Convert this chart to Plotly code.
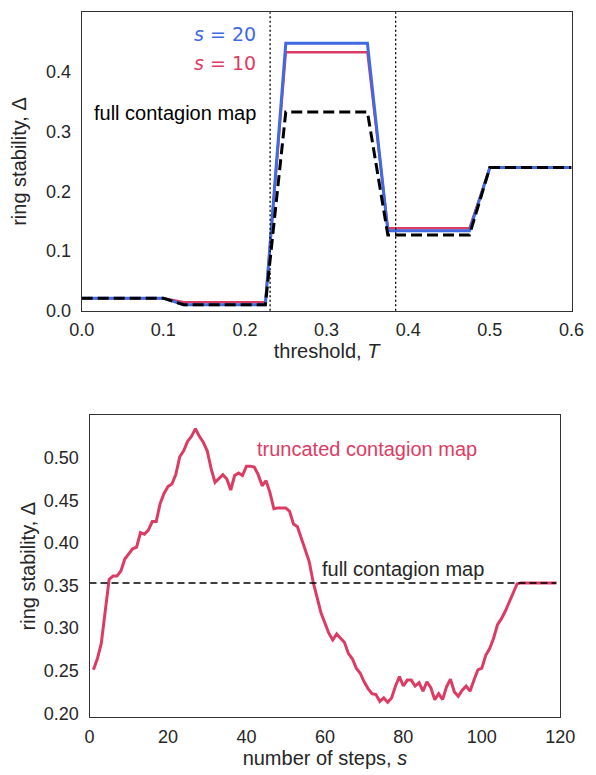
import plotly.graph_objects as go

# ---------------- data: top panel ----------------
thresholds = [0.0, 0.025, 0.05, 0.075, 0.1, 0.125, 0.15, 0.175, 0.2, 0.225,
              0.25, 0.275, 0.3, 0.325, 0.35, 0.375, 0.4, 0.425, 0.45, 0.475,
              0.5, 0.525, 0.55, 0.575, 0.6]
delta_s10 = [0.021, 0.021, 0.021, 0.021, 0.021, 0.014, 0.014, 0.014, 0.014, 0.014,
             0.433, 0.433, 0.433, 0.433, 0.433, 0.138, 0.138, 0.138, 0.138, 0.138,
             0.240, 0.240, 0.240, 0.240, 0.240]
delta_s20 = [0.021, 0.021, 0.021, 0.021, 0.021, 0.010, 0.010, 0.010, 0.010, 0.010,
             0.448, 0.448, 0.448, 0.448, 0.448, 0.134, 0.134, 0.134, 0.134, 0.134,
             0.240, 0.240, 0.240, 0.240, 0.240]
delta_full = [0.021, 0.021, 0.021, 0.021, 0.021, 0.010, 0.010, 0.010, 0.010, 0.010,
              0.333, 0.333, 0.333, 0.333, 0.333, 0.127, 0.127, 0.127, 0.127, 0.127,
              0.240, 0.240, 0.240, 0.240, 0.240]
critical_T = [0.2308, 0.3846]
top_xticks = [0.0, 0.1, 0.2, 0.3, 0.4, 0.5, 0.6]
top_yticks = [0.0, 0.1, 0.2, 0.3, 0.4, 0.5]

# ---------------- data: bottom panel ----------------
steps = list(range(1, 120))
delta_truncated = [
    0.251, 0.264, 0.282, 0.319, 0.357, 0.361, 0.361, 0.367, 0.381, 0.387,
    0.393, 0.395, 0.412, 0.410, 0.415, 0.425, 0.425, 0.446, 0.458, 0.466,
    0.469, 0.480, 0.501, 0.508, 0.519, 0.525, 0.534, 0.525, 0.518, 0.508,
    0.487, 0.471, 0.476, 0.480, 0.475, 0.462, 0.479, 0.482, 0.479, 0.490,
    0.490, 0.489, 0.480, 0.467, 0.473, 0.459, 0.440, 0.441, 0.441, 0.441,
    0.437, 0.422, 0.419, 0.406, 0.392, 0.378, 0.354, 0.335, 0.318, 0.306,
    0.294, 0.286, 0.293, 0.288, 0.283, 0.270, 0.264, 0.253, 0.247, 0.237,
    0.229, 0.223, 0.222, 0.214, 0.218, 0.213, 0.218, 0.232, 0.243, 0.232,
    0.239, 0.239, 0.232, 0.236, 0.226, 0.237, 0.230, 0.216, 0.223, 0.216,
    0.231, 0.240, 0.225, 0.220, 0.227, 0.232, 0.226, 0.239, 0.251, 0.253,
    0.268, 0.276, 0.288, 0.304, 0.311, 0.320, 0.330, 0.341, 0.352, 0.353,
    0.353, 0.353, 0.353, 0.353, 0.353, 0.353, 0.353, 0.353, 0.353,
]
full_map_delta = 0.353
bottom_xticks = [0, 20, 40, 60, 80, 100, 120]
bottom_yticks = [0.20, 0.25, 0.30, 0.35, 0.40, 0.45, 0.50]

RED = "#DC3C64"
BLUE = "#4169E1"
INK = "#262626"
FONT = "Liberation Sans, Arial, sans-serif"

fig = go.Figure()

# top panel
fig.add_trace(go.Scatter(x=thresholds, y=delta_s10, mode="lines",
                         line=dict(color=RED, width=2.5), xaxis="x", yaxis="y",
                         showlegend=False))
fig.add_trace(go.Scatter(x=thresholds, y=delta_s20, mode="lines",
                         line=dict(color=BLUE, width=3), xaxis="x", yaxis="y",
                         showlegend=False))
fig.add_trace(go.Scatter(x=thresholds, y=delta_full, mode="lines",
                         line=dict(color="black", width=3, dash="11px,5px"),
                         xaxis="x", yaxis="y", showlegend=False))

for tc in critical_T:
    fig.add_shape(type="line", xref="x", yref="y domain", x0=tc, x1=tc, y0=0, y1=1,
                  line=dict(color="black", width=1.3, dash="2px,2.5px"))

# bottom panel
fig.add_trace(go.Scatter(x=steps, y=delta_truncated, mode="lines",
                         line=dict(color=RED, width=3), xaxis="x2", yaxis="y2",
                         showlegend=False))
fig.add_trace(go.Scatter(x=[0, steps[-1]], y=[full_map_delta, full_map_delta],
                         mode="lines",
                         line=dict(color="black", width=1.5, dash="7px,4px"),
                         xaxis="x2", yaxis="y2", showlegend=False))

annotations = [
    dict(x=0.216, y=0.4635, xref="x", yref="y", text="<i>s</i> = 20",
         font=dict(family="DejaVu Sans", size=19, color=BLUE),
         xanchor="right", yanchor="middle", showarrow=False),
    dict(x=0.216, y=0.4148, xref="x", yref="y", text="<i>s</i> = 10",
         font=dict(family="DejaVu Sans", size=19, color=RED),
         xanchor="right", yanchor="middle", showarrow=False),
    dict(x=0.216, y=0.332, xref="x", yref="y", text="full contagion map",
         font=dict(family=FONT, size=20, color="black"),
         xanchor="right", yanchor="middle", showarrow=False),
    dict(x=42.2, y=0.5098, xref="x2", yref="y2", text="truncated contagion map",
         font=dict(family=FONT, size=20, color=RED),
         xanchor="left", yanchor="middle", showarrow=False),
    dict(x=58.8, y=0.3693, xref="x2", yref="y2", text="full contagion map",
         font=dict(family=FONT, size=20, color=INK),
         xanchor="left", yanchor="middle", showarrow=False),
]

axis_common = dict(showline=True, mirror=True, linecolor="#333333", linewidth=1.3,
                   showgrid=False, zeroline=False, ticks="outside",
                   tickcolor="rgba(0,0,0,0)", automargin=False,
                   tickfont=dict(family=FONT, size=18, color=INK))

# the page body has an 8px margin; figure pixel = reference pixel - 8
OFF = 8
W, H = 596 - OFF, 775 - OFF


def xdom(a, b):
    return [(a - OFF) / W, (b - OFF) / W]


def ydom(top, bottom):
    return [(775 - bottom) / H, (775 - top) / H]


fig.update_layout(
    width=W, height=H,
    margin=dict(l=0, r=0, t=0, b=0, autoexpand=False),
    paper_bgcolor="white", plot_bgcolor="white",
    font=dict(family=FONT, color=INK),
    annotations=annotations,
    xaxis=dict(axis_common, domain=xdom(81.7, 571.5), range=[0, 0.6],
               tickvals=top_xticks, tickformat=".1f", ticklen=3,
               title=dict(text="threshold, <i>T</i>", font=dict(size=20, family=FONT, color=INK),
                          standoff=4),
               anchor="y"),
    yaxis=dict(axis_common, domain=ydom(12.3, 310.7), range=[0, 0.5],
               tickvals=top_yticks, tickformat=".1f", ticklen=6,
               title=dict(text="ring stability, Δ", font=dict(size=20, family=FONT, color=INK),
                          standoff=14),
               anchor="x"),
    xaxis2=dict(axis_common, domain=xdom(89.5, 560.3), range=[0, 120],
                tickvals=bottom_xticks, ticklen=3,
                title=dict(text="number of steps, <i>s</i>", font=dict(size=20, family=FONT, color=INK),
                           standoff=2),
                anchor="y2"),
    yaxis2=dict(axis_common, domain=ydom(415, 717.3), range=[0.1953, 0.55],
                tickvals=bottom_yticks, tickformat=".2f", ticklen=6,
                title=dict(text="ring stability, Δ", font=dict(size=20, family=FONT, color=INK),
                           standoff=2),
                anchor="x2"),
)

fig.write_html("out.html")
